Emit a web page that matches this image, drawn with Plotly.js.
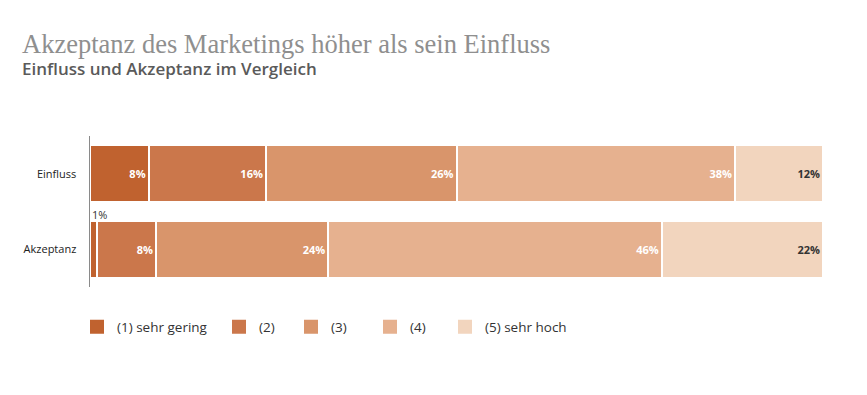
<!DOCTYPE html>
<html>
<head>
<meta charset="utf-8">
<script src="https://cdn.plot.ly/plotly-3.0.1.min.js"></script>
<style>html,body{margin:0;padding:0;background:#fff}#chart{width:867px;height:395px}</style>
</head>
<body>
<div id="chart"></div>
<script>
const categories = ["Einfluss", "Akzeptanz"];
const seriesNames = ["(1) sehr gering", "(2)", "(3)", "(4)", "(5) sehr hoch"];
const v1 = [8, 1];
const v2 = [16, 8];
const v3 = [26, 23.5];
const v4 = [38, 45.5];
const v5 = [12, 22];
const labels1 = ["8%", ""];
const labels2 = ["16%", "8%"];
const labels3 = ["26%", "24%"];
const labels4 = ["38%", "46%"];
const labels5 = ["12%", "22%"];
const smallLabel = "1%";

const colors = ["#C0622F", "#CB774B", "#D9956B", "#E6B18F", "#F2D5BE"];
const textColors = ["#ffffff", "#ffffff", "#ffffff", "#ffffff", "#333333"];
const values = [v1, v2, v3, v4, v5];
const texts = [labels1, labels2, labels3, labels4, labels5];
const legendNames = ["legend", "legend2", "legend3", "legend4", "legend5"];
const legendSquareX = [90, 232, 304, 383, 458];

const barTraces = values.map((vals, i) => ({
  type: "bar",
  orientation: "h",
  name: seriesNames[i],
  y: categories,
  x: vals,
  text: texts[i],
  texttemplate: "%{text}",
  textposition: "inside",
  insidetextanchor: "end",
  constraintext: "none",
  textfont: {family: "Open Sans, sans-serif", size: 11, color: textColors[i], weight: 700},
  marker: {color: colors[i], line: {color: "#ffffff", width: 2}},
  showlegend: false,
  legendgroup: "g" + i,
  hoverinfo: "none"
}));

const legendTraces = seriesNames.map((n, i) => ({
  type: "scatter", mode: "markers", name: n,
  x: [null], y: [null],
  marker: {symbol: "square", size: 14, color: colors[i]},
  legend: legendNames[i], legendgroup: "g" + i,
  showlegend: true, hoverinfo: "none"
}));

const plotL = 90, plotW = 733;
const layout = {
  width: 867, height: 395,
  margin: {l: 90, r: 44, t: 136, b: 108},
  paper_bgcolor: "#ffffff", plot_bgcolor: "#ffffff",
  barmode: "stack",
  bargap: 0.25,
  showlegend: true,
  xaxis: {range: [0, 100], showgrid: false, zeroline: false, showticklabels: false, showline: false, fixedrange: true},
  yaxis: {
    type: "category",
    categoryorder: "array", categoryarray: categories, range: [1.5, -0.5], autorange: false,
    showgrid: false, zeroline: false, showline: true, linecolor: "#8a8a8a", linewidth: 1.5,
    ticks: "", ticklabelstandoff: 10,
    tickfont: {family: "Open Sans, sans-serif", size: 11, color: "#222222"}
  },
  annotations: [
    {xref: "paper", yref: "paper", x: -0.0955, y: 1.61, xanchor: "left", yanchor: "middle", showarrow: false,
     text: "Akzeptanz des Marketings höher als sein Einfluss",
     font: {family: "Liberation Serif, Times New Roman, serif", size: 26.5, color: "#8f8f8f"}},
    {xref: "paper", yref: "paper", x: -0.0955, y: 1.445, xanchor: "left", yanchor: "middle", showarrow: false,
     text: "Einfluss und Akzeptanz im Vergleich",
     font: {family: "Open Sans, sans-serif", size: 17, color: "#5a5a5a", weight: 600}},
    {xref: "x", yref: "y", x: 0, y: categories[1], xanchor: "left", yanchor: "middle", showarrow: false,
     yshift: 35, xshift: 0, text: smallLabel,
     font: {family: "Open Sans, sans-serif", size: 11, color: "#333333"}}
  ]
};

legendNames.forEach((ln, i) => {
  layout[ln] = {
    orientation: "h",
    x: (legendSquareX[i] - 13 - plotL) / plotW, xanchor: "left",
    yref: "container", y: (395 - 327) / 395, yanchor: "middle",
    bgcolor: "rgba(0,0,0,0)",
    font: {family: "Open Sans, sans-serif", size: 13.5, color: "#333333"}
  };
});

Plotly.newPlot("chart", barTraces.concat(legendTraces), layout, {displayModeBar: false, staticPlot: true});
</script>
</body>
</html>
